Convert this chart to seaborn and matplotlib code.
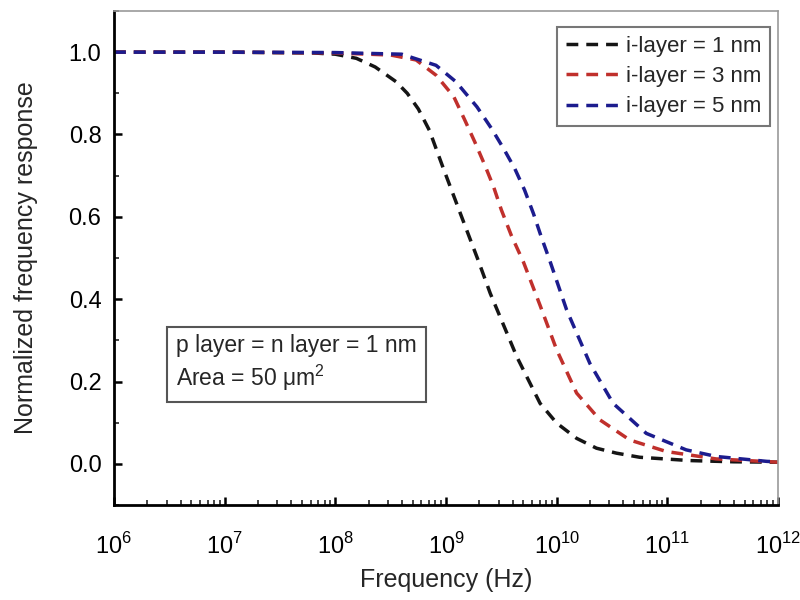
import numpy as np
import pandas as pd
import matplotlib
matplotlib.use("Agg")
import matplotlib.pyplot as plt
import seaborn as sns
from matplotlib.ticker import LogLocator, MultipleLocator, NullFormatter

# --- data (log10 of frequency, normalized response) ---
logf_1nm = [6, 7, 7.8, 8.0, 8.19, 8.36, 8.55, 8.65, 8.75, 8.85, 8.97, 9.13, 9.29, 9.40,
            9.50, 9.64, 9.85, 10.0, 10.18, 10.36, 10.54, 10.75, 11.2, 11.6, 12]
resp_1nm = [1.0, 1.0, 0.998, 0.995, 0.985, 0.964, 0.928, 0.9, 0.862, 0.81, 0.722, 0.608,
            0.495, 0.414, 0.35, 0.26, 0.147, 0.099, 0.062, 0.038, 0.026, 0.016,
            0.008, 0.005, 0.004]

logf_3nm = [6, 7, 8, 8.5, 8.73, 8.91, 9.07, 9.17, 9.26, 9.35, 9.43, 9.50, 9.59,
            9.70, 9.85, 10.0, 10.18, 10.39, 10.66, 10.99, 11.44, 12]
resp_3nm = [1.0, 1.0, 0.998, 0.993, 0.981, 0.944, 0.892, 0.835, 0.782, 0.726, 0.673,
            0.617, 0.555, 0.49, 0.385, 0.277, 0.172, 0.107, 0.058, 0.030, 0.012, 0.004]

logf_5nm = [6, 7, 8, 8.6, 8.91, 9.09, 9.28, 9.41, 9.52, 9.62, 9.71, 9.79, 9.86,
            9.94, 10.09, 10.30, 10.51, 10.81, 11.17, 11.44, 11.9, 12]
resp_5nm = [1.0, 1.0, 0.999, 0.995, 0.968, 0.928, 0.867, 0.815, 0.766, 0.718, 0.665,
            0.608, 0.552, 0.492, 0.374, 0.244, 0.147, 0.074, 0.034, 0.018, 0.006, 0.005]

labels = ["i-layer = 1 nm", "i-layer = 3 nm", "i-layer = 5 nm"]
colors = ["#151515", "#c0302c", "#1c1c8e"]
x_ticks = [1e6, 1e7, 1e8, 1e9, 1e10, 1e11, 1e12]
x_ticklabels = [r"$10^{6}$", r"$10^{7}$", r"$10^{8}$", r"$10^{9}$",
                r"$10^{10}$", r"$10^{11}$", r"$10^{12}$"]

sns.set_style("ticks")
plt.rcParams['font.family'] = ['Liberation Sans', 'DejaVu Sans']
plt.rcParams['mathtext.fontset'] = 'custom'
plt.rcParams['mathtext.rm'] = 'Liberation Sans'

fig = plt.figure(figsize=(8, 6), dpi=100)
ax = fig.add_axes([0.1425, 0.1583, 0.83, 0.8234])

for lf, r, lab, c in zip([logf_1nm, logf_3nm, logf_5nm],
                         [resp_1nm, resp_3nm, resp_5nm], labels, colors):
    d = pd.DataFrame({"freq": 10 ** np.array(lf), "resp": r})
    sns.lineplot(data=d, x="freq", y="resp", ax=ax, color=c, label=lab,
                 linewidth=2.5, linestyle=(0, (3.4, 2.3)))

ax.set_xscale("log")
ax.set_xlim(1e6, 1e12)
ax.set_ylim(-0.1, 1.1)

ax.set_xticks(x_ticks)
ax.set_xticklabels(x_ticklabels, fontsize=17)
ax.xaxis.set_minor_locator(LogLocator(base=10, subs=np.arange(2, 10)))
ax.xaxis.set_minor_formatter(NullFormatter())
ax.set_yticks([0.0, 0.2, 0.4, 0.6, 0.8, 1.0])
ax.set_yticklabels(["0.0", "0.2", "0.4", "0.6", "0.8", "1.0"], fontsize=17)
ax.yaxis.set_minor_locator(MultipleLocator(0.1))

ax.tick_params(axis="both", which="major", direction="in", length=6, width=1.8,
               colors="black")
ax.tick_params(axis="both", which="minor", direction="in", length=3.5, width=1.2)
ax.tick_params(axis="x", which="major", pad=20)
ax.tick_params(axis="y", which="major", pad=9)

for side in ["left", "bottom"]:
    ax.spines[side].set_linewidth(2)
    ax.spines[side].set_color("black")
for side in ["top", "right"]:
    ax.spines[side].set_visible(True)
    ax.spines[side].set_linewidth(1.2)
    ax.spines[side].set_color("#9a9a9a")

ax.set_xlabel("Frequency (Hz)", fontsize=18, labelpad=7)
ax.set_ylabel("Normalized frequency response", fontsize=18, labelpad=22)

leg = ax.legend(loc="upper right", bbox_to_anchor=(0.988, 0.968), fontsize=16,
                frameon=True, fancybox=False, handlelength=2.6, handletextpad=0.1,
                labelspacing=0.42, borderpad=0.4, borderaxespad=0)
leg.get_frame().set_edgecolor("#555555")
leg.get_frame().set_linewidth(1.5)

ax.text(0.093, 0.227, "p layer = n layer = 1 nm\nArea = 50 μm$^{2}$",
        transform=ax.transAxes, fontsize=16.5, va="bottom", ha="left",
        linespacing=1.25,
        bbox=dict(boxstyle="square,pad=0.4", facecolor="white",
                  edgecolor="#555555", linewidth=1.5))

fig.savefig("out.png", dpi=100)
